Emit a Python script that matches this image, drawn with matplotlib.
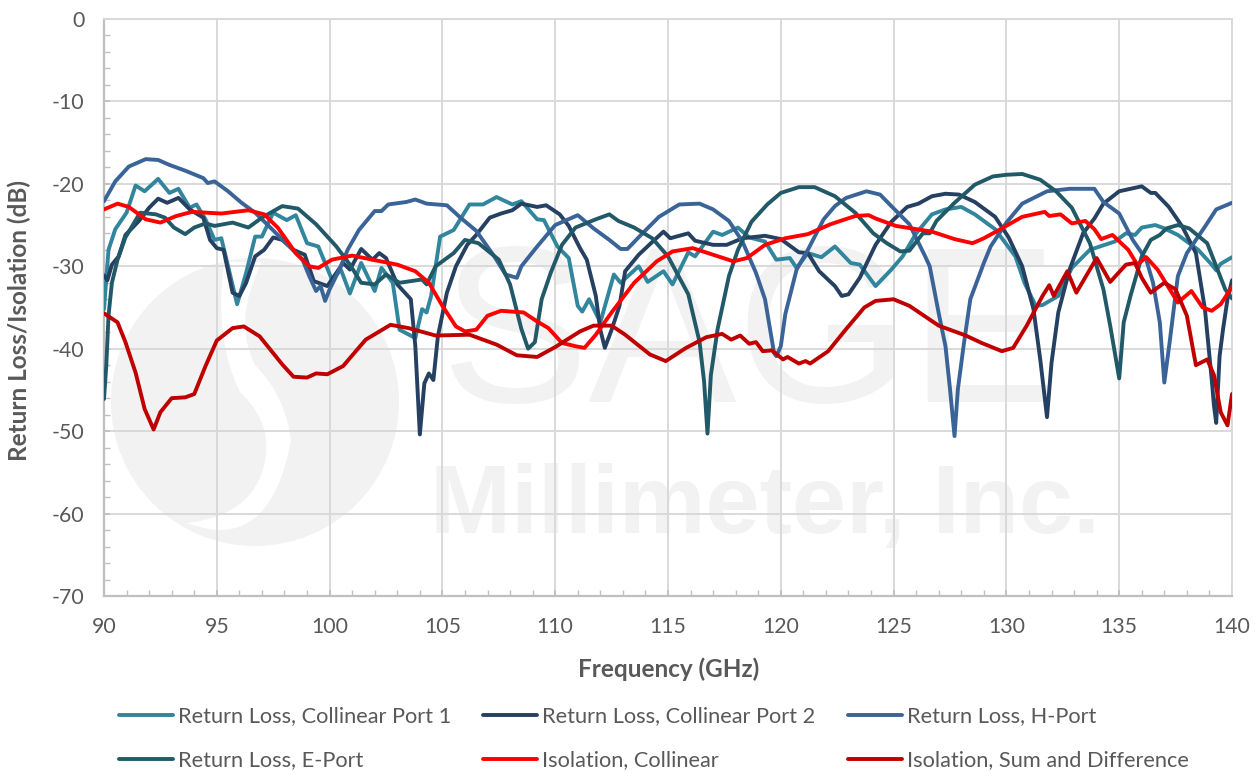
import matplotlib
matplotlib.use('Agg')
import matplotlib.pyplot as plt
from matplotlib.patches import Circle, PathPatch
from matplotlib.path import Path
from matplotlib.ticker import MultipleLocator

plt.rcParams['font.family'] = ['Lato', 'DejaVu Sans']
plt.rcParams['axes.unicode_minus'] = False

freq_port1 = [90, 90.2, 90.5, 91, 91.4, 91.8, 92.4, 92.9, 93.3, 93.8, 94.1, 94.5, 94.9, 95.2, 95.5, 95.9, 96.3, 96.7, 97, 97.5, 98.1, 98.5, 99, 99.5, 100.1, 100.5, 100.9, 101.4, 102, 102.3, 102.8, 103.1, 103.8, 104.1, 104.3, 104.5, 104.9, 105.5, 106.2, 106.8, 107.4, 108.1, 108.5, 109.2, 109.5, 110.1, 110.6, 111, 111.2, 111.5, 112, 112.6, 112.9, 113.7, 114.1, 114.8, 115.2, 115.9, 116.2, 117, 117.4, 118.1, 118.6, 119.3, 119.8, 120.4, 120.7, 121.2, 121.8, 122.4, 123.1, 123.5, 124.2, 124.9, 125.4, 126, 126.7, 127.3, 128, 128.6, 129.5, 130.4, 130.8, 131.3, 131.6, 132.3, 132.9, 133.7, 134.8, 135.3, 135.7, 136, 136.6, 137, 137.6, 138.5, 139.1, 139.3, 139.5, 140]
rl_port1 = [-35.2, -28, -25.5, -23.5, -20.2, -20.9, -19.4, -21.1, -20.6, -22.9, -22.5, -24.3, -26.8, -26.6, -30, -34.6, -30.8, -26.4, -26.4, -23.5, -24.4, -23.8, -27.2, -27.6, -31.6, -30.4, -33.3, -29.6, -33, -30.2, -32, -37.7, -38.7, -35.2, -35.6, -33.6, -26.4, -25.6, -22.5, -22.5, -21.6, -22.5, -22.1, -24.3, -24.4, -27.6, -29, -34.8, -35.5, -34, -36.8, -31, -32, -30, -31.9, -30.6, -32.2, -28.3, -28.8, -25.8, -26.2, -25.3, -26.5, -27, -29.2, -29, -30.2, -28.4, -28.9, -27.6, -29.6, -29.8, -32.4, -30.4, -28.8, -26, -23.7, -23.1, -22.8, -23.7, -25.5, -28.8, -32, -34.8, -34.7, -33.6, -30.2, -28, -27, -26, -26.2, -25.3, -25, -25.4, -26.2, -28, -29.8, -30.5, -29.7, -28.9]

freq_port2 = [90, 90.15, 90.35, 90.65, 90.95, 91.55, 92, 92.4, 92.8, 93.3, 93.8, 94.4, 94.7, 95, 95.3, 95.7, 96, 96.3, 96.7, 97.1, 97.5, 97.9, 98.4, 98.9, 99.3, 99.5, 99.9, 100.6, 100.9, 101.4, 101.9, 102.2, 102.5, 103, 103.6, 103.8, 104, 104.2, 104.4, 104.6, 104.8, 105.2, 105.6, 106.1, 106.5, 107.1, 107.6, 108.1, 108.5, 109.2, 109.6, 110.2, 110.6, 111.1, 111.4, 111.8, 112, 112.2, 112.5, 112.85, 113.1, 113.7, 114.4, 114.8, 115.1, 115.9, 116.2, 117, 117.6, 118.3, 119.3, 120, 120.8, 121.2, 121.7, 122.4, 122.7, 123, 123.5, 124.2, 124.9, 125.6, 126.1, 126.7, 127.3, 127.9, 128.6, 129.5, 130.1, 130.7, 131.2, 131.5, 131.8, 132, 132.3, 132.8, 133.4, 133.9, 134.3, 135, 136, 136.4, 136.6, 137.2, 137.8, 138.4, 138.8, 139.1, 139.2, 139.3, 139.45, 139.6, 139.8, 140]
rl_port2 = [-31.1, -31.7, -29.8, -28.8, -26.2, -24.5, -22.9, -21.8, -22.3, -21.7, -23.1, -24.1, -26.8, -27.8, -28, -33.2, -33.6, -32, -28.8, -28, -26.5, -26.8, -28, -28.6, -31.8, -32, -32.4, -29.6, -30.4, -27.9, -29.2, -28.4, -29, -32.2, -34, -39.7, -50.4, -44.2, -43, -43.8, -38.5, -33.2, -30, -27.4, -26.2, -24.1, -23.6, -23.2, -22.4, -22.8, -22.6, -23.7, -25.1, -27.8, -29.2, -33.6, -37.7, -39.9, -37.7, -34.8, -30.6, -28.6, -26.8, -25.8, -26.6, -26, -26.9, -27.4, -27.4, -26.6, -26.3, -26.7, -28.3, -28.4, -30.6, -32.4, -33.6, -33.4, -31.4, -27.4, -24.6, -22.8, -22.4, -21.5, -21.2, -21.3, -22.2, -24, -26.5, -30, -35.2, -41.3, -48.3, -41.7, -35.6, -30.4, -26, -24.2, -22.4, -20.9, -20.3, -21.1, -21.1, -22.8, -25.2, -28.4, -35.2, -43.7, -46.9, -49, -40.9, -37.7, -34, -31.7]

freq_h = [90, 90.5, 91.1, 91.85, 92.4, 92.9, 93.6, 94.4, 94.6, 94.9, 95.5, 96.1, 96.7, 97.3, 98, 98.8, 99.1, 99.4, 99.6, 99.8, 100, 100.4, 100.8, 101.3, 102, 102.3, 102.6, 103.4, 103.8, 104.3, 105.2, 105.8, 106.5, 107.3, 107.8, 108.3, 108.5, 109.2, 110, 111, 111.7, 112.4, 112.9, 113.2, 113.8, 114.6, 115.5, 116.4, 117, 117.7, 118.3, 118.9, 119.3, 119.7, 119.8, 120, 120.2, 120.7, 121.2, 121.9, 122.4, 122.9, 123.8, 124.4, 124.9, 125.7, 126.4, 126.6, 127, 127.3, 127.5, 127.7, 127.85, 128.1, 128.4, 129, 129.3, 130, 130.7, 131.8, 132.8, 133.9, 134.3, 135, 135.6, 136.2, 136.5, 136.8, 137, 137.25, 137.6, 138, 138.8, 139.3, 140]
rl_h = [-22.1, -19.7, -17.9, -17, -17.1, -17.7, -18.4, -19.3, -19.9, -19.7, -20.9, -22.3, -23.5, -25.1, -27, -29.2, -31.2, -33, -32.4, -34.2, -32.8, -30.6, -28, -25.6, -23.3, -23.3, -22.5, -22.2, -21.9, -22.4, -22.6, -24.1, -25.7, -28.8, -31, -31.4, -30, -27.6, -25, -23.8, -25.4, -26.8, -27.9, -27.9, -26.2, -24, -22.5, -22.4, -23.1, -24.5, -27, -30.8, -34, -40.5, -40.9, -39.7, -35.8, -30.4, -28, -24.3, -22.7, -21.7, -20.9, -21.3, -22.7, -24.9, -28.8, -30, -35.7, -39.7, -44.9, -50.6, -44.9, -39.7, -34, -29.6, -27.6, -24.7, -22.4, -20.9, -20.6, -20.6, -22.2, -23.6, -26.8, -29.2, -32, -36.8, -44.1, -38.9, -31.2, -28.4, -25.2, -23.1, -22.3]

freq_e = [90, 90.1, 90.2, 90.35, 90.6, 90.95, 91.6, 92.3, 92.7, 93.1, 93.6, 94, 94.5, 94.9, 95.7, 96.4, 97, 97.9, 98.6, 99.4, 100.3, 100.9, 101.4, 102, 102.5, 103.1, 104.1, 104.3, 104.7, 105.5, 106, 106.6, 107.5, 108, 108.5, 108.8, 109.1, 109.4, 109.8, 110.3, 110.9, 111.8, 112.4, 112.8, 113.5, 114.3, 115, 115.9, 116.4, 116.6, 116.75, 116.9, 117.2, 117.7, 118.1, 118.7, 119.4, 120, 120.8, 121.5, 122.4, 123.3, 124.1, 124.7, 125.3, 125.7, 126.3, 126.6, 126.9, 127.7, 128.6, 129.4, 130, 130.7, 131.5, 132.2, 132.9, 133.7, 134.3, 134.6, 135, 135.2, 135.5, 136, 136.4, 136.8, 137.1, 137.6, 138.1, 138.9, 139.3, 139.7, 140]
rl_e = [-46.1, -42.1, -36, -32, -29.2, -26.5, -23.5, -23.7, -24.1, -25.3, -26.1, -25.3, -24.8, -25.1, -24.7, -25.3, -24.1, -22.7, -23, -24.9, -27.6, -29.8, -32, -32.2, -31, -32, -31.6, -32.2, -30, -28.4, -26.8, -27.2, -29.2, -32.2, -37.6, -40, -39.2, -34, -30.8, -27.4, -25.3, -24.3, -23.7, -24.5, -25.3, -26.6, -28.8, -33.4, -39.2, -44, -50.3, -43.2, -37.6, -31.2, -28, -24.6, -22.5, -21.1, -20.4, -20.4, -21.5, -23.5, -26, -27.2, -28.2, -28.1, -26, -26, -24.5, -22.3, -20.1, -19.1, -18.9, -18.8, -19.5, -20.9, -22.9, -27.2, -32.8, -37.2, -43.6, -36.8, -33.6, -28.8, -26.8, -26.2, -25.4, -25, -25.4, -27.2, -30, -32.8, -33.9]

freq_iso = [90, 90.6, 91.1, 91.85, 92.5, 93.2, 93.9, 95.2, 96.4, 97.1, 97.7, 98.5, 99.1, 99.5, 100.1, 101, 101.9, 103, 103.8, 104.4, 105, 105.6, 106, 106.5, 107, 107.6, 108.6, 109.2, 109.7, 110.3, 110.9, 111.3, 111.8, 112.5, 113.5, 114.5, 115.2, 116.1, 117, 117.9, 118.5, 119.3, 120.2, 121.2, 122.2, 123.3, 123.9, 124.2, 125.1, 126.7, 127.7, 128.5, 129, 129.8, 130.7, 131.7, 131.9, 132.4, 132.9, 133.5, 133.9, 134.2, 134.7, 135.4, 135.8, 136.2, 136.7, 137.6, 138.2, 138.7, 139.1, 139.5, 140]
iso_coll = [-23.1, -22.4, -22.8, -24.3, -24.7, -23.9, -23.4, -23.6, -23.2, -23.7, -25.3, -28.4, -30, -30.2, -29.2, -28.7, -29.2, -29.8, -30.6, -32, -34.8, -37.3, -37.9, -37.7, -36, -35.4, -35.6, -36.7, -37.5, -39.3, -39.7, -39.9, -38.3, -35.6, -32, -29.4, -28.2, -27.8, -28.6, -29.4, -29, -27.4, -26.6, -26.1, -24.9, -23.9, -23.8, -24.2, -25.1, -25.8, -26.7, -27.2, -26.6, -25.4, -24, -23.4, -23.9, -23.7, -24.8, -24.5, -25.5, -26.7, -26.2, -28, -29.8, -28.9, -30.4, -34.4, -33, -35, -35.4, -34.6, -32.5]

freq_sd = [90, 90.6, 90.95, 91.4, 91.8, 92.2, 92.5, 93, 93.6, 94, 94.5, 95, 95.7, 96.2, 96.9, 97.9, 98.4, 99, 99.4, 99.9, 100.6, 101.6, 102.7, 103.5, 104.7, 106.2, 107.4, 108.3, 109.2, 110, 111.1, 111.7, 112.5, 113.1, 114.2, 114.9, 115.8, 116.7, 117.4, 117.8, 118.2, 118.6, 118.9, 119.2, 119.6, 120.1, 120.3, 120.8, 121.1, 121.3, 122.1, 122.9, 123.7, 124.2, 125, 125.7, 127, 128.2, 128.9, 129.8, 130.3, 130.9, 131.6, 131.9, 132.1, 132.7, 133.1, 133.7, 134, 134.6, 135.3, 135.7, 136, 136.4, 137, 137.5, 138, 138.4, 138.9, 139.2, 139.5, 139.8, 140]
iso_sd = [-35.7, -36.8, -39.2, -42.9, -47.3, -49.8, -47.7, -46, -45.9, -45.5, -42.1, -39, -37.5, -37.3, -38.5, -41.9, -43.4, -43.5, -43, -43.1, -42.1, -38.9, -37.1, -37.5, -38.4, -38.3, -39.5, -40.8, -41, -39.8, -37.9, -37.2, -37.2, -38.3, -40.7, -41.5, -39.9, -38.6, -38.2, -38.9, -38.4, -39.4, -39.2, -40.3, -40.2, -41.3, -41, -41.8, -41.5, -41.8, -40.3, -37.6, -35, -34.2, -34, -34.8, -37.2, -38.4, -39.3, -40.3, -39.9, -37.2, -33.6, -32.3, -33.6, -30.6, -33.2, -30.4, -29, -31.9, -29.8, -29.6, -31.4, -33.2, -32, -32.8, -36, -42, -41.3, -43.2, -47.7, -49.3, -45.5]

series = [
    ("Return Loss, Collinear Port 1", freq_port1, rl_port1, "#31859C"),
    ("Return Loss, Collinear Port 2", freq_port2, rl_port2, "#254061"),
    ("Return Loss, H-Port", freq_h, rl_h, "#3A6497"),
    ("Return Loss, E-Port", freq_e, rl_e, "#215968"),
    ("Isolation, Collinear", freq_iso, iso_coll, "#FF0000"),
    ("Isolation, Sum and Difference", freq_sd, iso_sd, "#C00000"),
]

W, H = 1260, 771
fig = plt.figure(figsize=(W / 100, H / 100), dpi=100)
ax = fig.add_axes([104 / W, 1 - 596 / H, (1232 - 104) / W, (596 - 19) / H])

# watermark behind the grid, drawn in pixel coordinates
wm = "#F2F2F2"
bg = fig.add_axes([0, 0, 1, 1], zorder=-1)
bg.set_xlim(0, W)
bg.set_ylim(H, 0)
bg.axis('off')
bg.add_patch(Circle((255, 402), 144, color=wm, lw=0))
# white s-shaped swirl of the logo
swirl = [(224, 262), (214, 340), (240, 392), (270, 420), (266, 455), (258, 515), (187, 523),
         (270, 555), (291, 440), (285, 395), (255, 365), (232, 320), (262, 262)]
codes = [Path.MOVETO] + [Path.CURVE3] * 12
bg.add_patch(PathPatch(Path(swirl, codes), fc='white', ec='none'))
bg.text(750, 345, "SAGE", fontsize=160, color=wm, ha='center', va='center',
        family='Liberation Sans')
bg.text(765, 508, "Millimeter, Inc.", fontsize=70, color=wm, ha='center', va='center',
        family='Liberation Sans', fontweight='bold')
ax.patch.set_alpha(0)

for name, x, y, col in series:
    ax.plot(x, y, color=col, lw=2.8, label=name, solid_capstyle='round', zorder=3)

ax.set_xlim(90, 140)
ax.set_ylim(-70, 0)
ax.xaxis.set_major_locator(MultipleLocator(5))
ax.xaxis.set_minor_locator(MultipleLocator(1))
ax.yaxis.set_major_locator(MultipleLocator(10))
ax.yaxis.set_minor_locator(MultipleLocator(2))
ax.grid(True, which='major', color='#D9D9D9', lw=1.4, zorder=0)
ax.set_axisbelow(True)
for side in ['top', 'right']:
    ax.spines[side].set_color('#D9D9D9')
    ax.spines[side].set_linewidth(1.4)
for side in ['left', 'bottom']:
    ax.spines[side].set_color('#BFBFBF')
    ax.spines[side].set_linewidth(1.6)
ax.tick_params(axis='x', which='major', labelsize=15.3, labelcolor='#595959',
               color='#BFBFBF', direction='in', width=1.2, length=4, pad=15)
ax.tick_params(axis='y', which='major', labelsize=15.3, labelcolor='#595959',
               color='#BFBFBF', direction='in', width=1.2, length=4, pad=14)
ax.tick_params(axis='both', which='minor', color='#BFBFBF', direction='in', width=1.0, length=4)
ax.set_xlabel("Frequency (GHz)", fontsize=17.5, fontweight='bold', color='#595959')
ax.set_ylabel("Return Loss/Isolation (dB)", fontsize=17.5, fontweight='bold', color='#595959')
ax.xaxis.set_label_coords(0.5004, -0.106)
ax.yaxis.set_label_coords(-0.065, 0.477)

# legend fills columns, so hand it the rows swapped
h, l = ax.get_legend_handles_labels()
order = [0, 3, 1, 4, 2, 5]
fig.legend([h[i] for i in order], [l[i] for i in order], ncol=3, frameon=False,
           loc='lower left', bbox_to_anchor=(101.5 / W, -17 / H), fontsize=15.7, labelcolor='#595959',
           handlelength=2.48, handletextpad=0.23, columnspacing=1.47, labelspacing=1.12,
           borderpad=0.3)

fig.savefig("out.png", dpi=100)
